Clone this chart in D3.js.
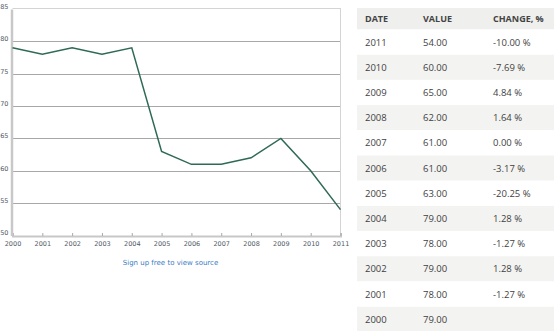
<!DOCTYPE html>
<html><head><meta charset="utf-8">
<script src="https://cdn.jsdelivr.net/npm/d3@7"></script>
<style>
body{margin:0;background:#fff;}
svg{display:block;}
</style></head>
<body>
<svg id="c" width="554" height="331"></svg>
<script>
const years = [2000,2001,2002,2003,2004,2005,2006,2007,2008,2009,2010,2011];
const values = [79,78,79,78,79,63,61,61,62,65,60,54];
const changes = [null,-1.27,1.28,-1.27,1.28,-20.25,-3.17,0.00,1.64,4.84,-7.69,-10.00];
const yTicks = [50,55,60,65,70,75,80,85];
const headers = ["DATE","VALUE","CHANGE, %"];

const svg = d3.select("#c");
const x = d3.scaleLinear().domain([2000,2011]).range([12.5,340.5]);
const y = d3.scaleLinear().domain([50,85]).range([235.5,9]);
const fontAx = "'DejaVu Sans', sans-serif";

// gridlines
svg.append("g").selectAll("line").data(yTicks.filter(d=>d>50&&d<85)).join("line")
  .attr("x1",x(2000)).attr("x2",x(2011))
  .attr("y1",d=>Math.round(y(d))+0.5).attr("y2",d=>Math.round(y(d))+0.5)
  .attr("stroke","#a8a8a8").attr("stroke-width",1);
// frame top/right
svg.append("line").attr("x1",x(2000)).attr("x2",x(2011)).attr("y1",8.5).attr("y2",8.5).attr("stroke","#d4d4d4");
svg.append("line").attr("x1",340.5).attr("x2",340.5).attr("y1",8).attr("y2",236).attr("stroke","#d4d4d4");

// x axis
const xAxis = d3.axisBottom(x).tickValues(years).tickFormat(d3.format("d")).tickSize(-3).tickPadding(5);
const gx = svg.append("g").attr("transform","translate(0,236)").call(xAxis);
gx.select(".domain").attr("stroke","#c8c8c8").attr("stroke-width",2);
gx.selectAll(".tick line").attr("stroke","#aaa");
gx.selectAll("text").attr("fill","#4f5a66").style("font-family",fontAx).style("font-size","6.5px");

// y axis
const yAxis = d3.axisLeft(y).tickValues(yTicks).tickSize(0).tickPadding(3);
const gy = svg.append("g").attr("transform","translate(11.5,0)").call(yAxis);
gy.select(".domain").attr("stroke","#c8c8c8").attr("stroke-width",2.5);
gy.selectAll("text").attr("fill","#4f5a66").style("font-family",fontAx).style("font-size","6.5px").attr("dy","-0.1em");

// line
const line = d3.line().x((d,i)=>x(years[i])).y(d=>y(d));
svg.append("path").datum(values).attr("d",line).attr("fill","none")
  .attr("stroke","#2f6a55").attr("stroke-width",1.5).attr("stroke-linejoin","miter");

// link text
svg.append("text").attr("x",170.5).attr("y",265).attr("text-anchor","middle")
  .attr("fill","#3a7cc4").style("font-family",fontAx).style("font-size","7px")
  .text("Sign up free to view source");

// table
const tX = 357, tW = 197, headTop = 8, headH = 21.5, rowH = 25.2;
const colX = [365, 423, 493];
const tfont = "'Open Sans', sans-serif";
const rows = years.map((yr,i)=>({yr,v:values[i],c:changes[i]})).reverse();

svg.append("rect").attr("x",tX).attr("y",headTop).attr("width",tW).attr("height",headH).attr("fill","#efefed");
svg.append("g").selectAll("text").data(headers).join("text")
  .attr("x",(d,i)=>colX[i]).attr("y",headTop+headH/2+3.3)
  .attr("fill","#444").style("font-family",tfont).style("font-weight","bold").style("font-size","9px")
  .text(d=>d);

const rg = svg.append("g").selectAll("g").data(rows).join("g")
  .attr("transform",(d,i)=>`translate(0,${headTop+headH+i*rowH})`);
rg.append("rect").attr("x",tX).attr("width",tW).attr("height",rowH)
  .attr("fill",(d,i)=>i%2===1?"#f3f3f2":"#fff");
rg.append("text").attr("x",colX[0]).attr("y",rowH/2+3.4).text(d=>d.yr);
rg.append("text").attr("x",colX[1]).attr("y",rowH/2+3.4).text(d=>d.v.toFixed(2));
rg.append("text").attr("x",colX[2]).attr("y",rowH/2+3.4).text(d=>d.c===null?"":d.c.toFixed(2)+" %");
rg.selectAll("text").attr("fill","#3f3f3f").style("font-family",tfont).style("font-size","9.5px");
</script>
</body></html>
